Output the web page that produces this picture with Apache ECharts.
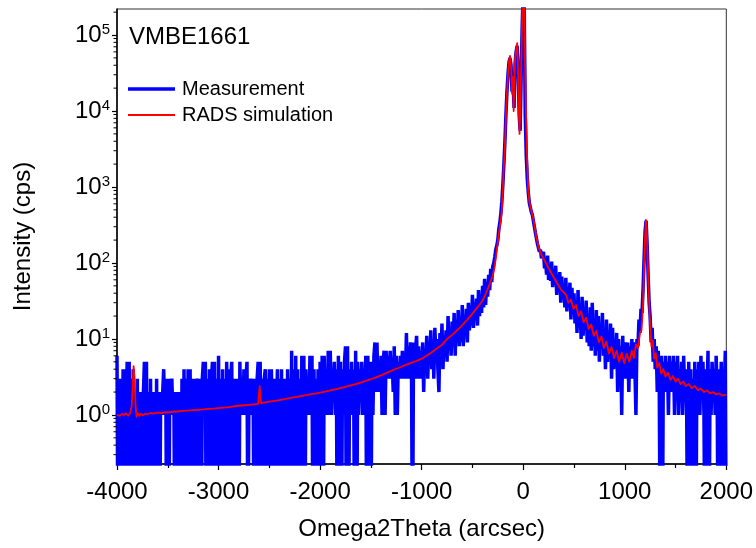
<!DOCTYPE html>
<html><head><meta charset="utf-8">
<script src="https://cdn.jsdelivr.net/npm/echarts@6/dist/echarts.min.js"></script>
<style>html,body{margin:0;padding:0;background:#fff}#c{width:756px;height:548px}</style>
</head><body><div id="c"></div>
<script>
// ---- Measurement (counts per 10 arcsec step, from -4000 to 2000) ----
const measStart = -4000, measStep = 10;
const measA = [6,0,3,0,3,0,4,0,4,1, 5,0,5,0,3,0,4,0,2,0, 3,0,2,0,2,0,2,5,0,5, 0,2,0,3,0,2,0,2,0,3, 0,2,0,2,1,2,4,1,3,0];
const measB = [3,0,3,1,3,1,2,0,2,0, 2,1,2,0,3,0,4,0,3,0, 4,0,4,0,3,0,3,0,3,1, 3,0,3,0,3,5,1,5,0,3, 0,4,0,3,5,0,5,0,3,0];
const measC = [6,0,3,0,4,0,3,0,5,0, 4,0,3,5,0,3,0,3,0,3, 0,5,1,3,1,4,1,3,5,0, 3,1,3,1,3,0,3,0,3,5, 0,5,0,3,0,3,4,0,3,1];
const measD = [4,0,4,1,3,0,3,1,4,0, 3,0,4,0,3,0,3,0,4,1, 3,0,7,0,4,0,6,0,4,0, 3,0,6,0,6,0,4,1,3,1, 6,1,6,0,4,0,3,0,4,0];
const measE = [5,0,6,0,6,1,4,1,7,1, 7,1,4,2,5,1,4,0,6,0, 5,0,4,1,5,8,0,8,0,4, 1,5,1,4,0,7,0,5,1,4, 2,5,1,4,2,6,0,6,0,5];
const measF = [0,5,1,6,9,2,9,2,5,2, 6,1,5,7,1,7,3,6,3,7, 3,5,2,8,1,6,1,5,3,6, 3,7,3,6,3,12,3,8,3,9, 4,0,9,3,7,11,3,8,3,7];
const measG = [3,9,2,7,4,11,3,8,5,13, 4,9,3,14,6,10,4,2,12,5, 16,4,11,6,13,5,20,7,14,6, 17,9,22,6,16,10,24,8,18,9, 28,8,20,11,25,9,30,13,22,15];
const measH = [38,14,30,18,34,15,44,20,36,22, 50,26,62,28,56,36,70,44,84,56, 90,100,120,150,170,200,280,340,450,650, 1100,2000,4000,9000,18000,30000,44000,50000,40000,18000, 24000,11000,42000,60000,72000,38000,9000,5500,30000,130000];
const measI = [400000,250000,9000,2600,1300,850,620,540,470,430, 360,340,250,240,180,180,140,150,115,130, 140,85,110,70,125,60,90,58,104,48, 80,52,92,38,70,44,76,30,66,34, 52,26,64,23,48,27,55,18,47,21];
const measJ = [40,16,30,12,44,14,28,10,36,11, 24,13,32,9,20,8,26,7,30,8, 18,6,24,7,20,5,15,9,22,6, 13,4,18,5,12,6,16,3,14,4, 9,5,12,2,10,3,8,1,11,3];
const measK = [3,9,3,9,2,8,3,10,3,9, 4,1,10,8,18,12,25,22,45,110, 260,360,180,70,30,20,9,14,5,10, 4,8,2,7,2,0,6,0,5,2, 6,2,5,1,6,2,5,2,6,1];
const measL = [5,2,6,1,4,2,5,1,6,2, 4,1,0,5,1,4,0,3,1,5, 0,4,2,5,1,6,2,5,1,0, 4,2,7,0,4,1,5,2,4,1, 6,2,0,4,1,5,0,4,2,7, 0];

// ---- RADS simulation ----
const simX = [-4000,-3970,-3950,-3930,-3910,-3890,-3870,-3855,-3845,-3837,
  -3828,-3818,-3808,-3795,-3780,-3765,-3745,-3720,-3700,-3670,
  -3640,-3600,-3560,-3520,-3480,-3440,-3400,-3350,-3300,-3250,
  -3200,-3150,-3100,-3050,-3000,-2950,-2900,-2850,-2800,-2750,
  -2700,-2650,-2610,-2600,-2595,-2588,-2580,-2560,-2500,-2450,
  -2400,-2350,-2300,-2250,-2200,-2150,-2100,-2050,-2000,-1950,
  -1900,-1850,-1800,-1750,-1700,-1650,-1600,-1550,-1500,-1450,
  -1400,-1350,-1300,-1250,-1200,-1150,-1100,-1050,-1000,-950,
  -900,-850,-800,-750,-700,-650,-600,-550,-500,-450,
  -400,-350,-300,-280,-265,-250,-235,-220,-210,-200,
  -192,-184,-176,-168,-160,-150,-140,-130,-124,-117,
  -110,-102,-94,-86,-79,-68,-59,-52,-46,-36,
  -28,-20,-12,-4,5,13,20,29,39,50,
  60,75,94,110,128,150,177,210,242,280,
  324,370,423,445,470,495,520,545,570,595,
  620,645,670,695,720,745,770,795,820,845,
  870,895,920,945,970,995,1020,1045,1070,1090,
  1110,1130,1150,1165,1178,1190,1200,1208,1216,1224,
  1232,1240,1250,1262,1275,1290,1305,1320,1340,1360,
  1380,1400,1425,1450,1475,1500,1525,1550,1575,1600,
  1630,1660,1690,1720,1750,1780,1810,1840,1870,1900,
  1930,1960,2000];
const simY = [1.00,0.97,1.03,1.00,1.05,0.98,1.06,1.3,2.5,4.4,
  3.2,1.4,0.95,1.05,0.97,1.04,0.99,1.04,1.02,1.06,
  1.04,1.07,1.06,1.09,1.08,1.11,1.11,1.13,1.14,1.16,
  1.17,1.18,1.20,1.21,1.23,1.25,1.27,1.30,1.32,1.34,
  1.36,1.38,1.40,1.45,2.4,1.7,1.42,1.45,1.50,1.53,
  1.57,1.61,1.66,1.71,1.76,1.81,1.86,1.91,1.97,2.03,
  2.10,2.17,2.25,2.34,2.44,2.55,2.67,2.80,2.95,3.12,
  3.32,3.55,3.80,4.05,4.30,4.60,4.85,5.15,5.5,6.0,
  6.7,7.5,8.4,10.0,11.3,13.0,15.2,18.0,21.5,26,
  32,45,68,90,130,190,270,380,500,1000,
  1800,2500,5000,10000,17000,30000,45000,53000,55000,35000,
  17000,28000,10000,25000,50000,65000,78000,40000,14000,5000,
  12000,37000,120000,400000,500000,200000,30000,8000,2200,900,
  650,520,410,320,222,165,130,108,89,72,
  57,45,38,30,33,25,28,20,23,16.5,
  19,13.5,15.5,11,12.8,9,10.8,7.6,9.2,6.4,
  7.8,5.6,7,5,6.6,4.8,6.4,5.0,7.0,5.6,
  8.5,7.5,12,13,25,90,220,370,280,130,
  60,30,15,8,9.5,5.5,6.5,4.2,4.8,3.5,
  4.0,3.2,3.6,2.9,3.25,2.75,3.0,2.55,2.75,2.4,
  2.55,2.25,2.4,2.12,2.22,2.0,2.1,1.92,2.0,1.86,
  1.92,1.80,1.85];

const seriesNames = ['Measurement', 'RADS simulation'];
const sampleName = 'VMBE1661';
const xTitle = 'Omega2Theta (arcsec)';
const yTitle = 'Intensity (cps)';
const xMin = -4000, xMax = 2000, xInterval = 1000;
const yMin = 0.226, yMax = 2.2e5;
const yDecades = [0, 1, 2, 3, 4, 5];

const measCounts = [].concat(measA, measB, measC, measD, measE, measF, measG, measH, measI, measJ, measK, measL);
// zero counts cannot sit on a log axis: send them below the axis floor (clipped)
const measData = measCounts.map((c, i) => [measStart + i * measStep, c === 0 ? 0.01 : c]);
const simData = simX.map((x, i) => [x, simY[i]]);

// minor log ticks (2..9 × 10^k) inside the axis range
const minorTicks = [];
for (let k = -1; k <= 5; k++) for (let m = 2; m <= 9; m++) {
  const v = m * Math.pow(10, k);
  if (v >= yMin && v <= yMax) minorTicks.push([xMin, v]);
}

const FONT = 'Liberation Sans, Arial, sans-serif';
const chart = echarts.init(document.getElementById('c'), null, {renderer: 'canvas'});
chart.setOption({
  animation: false,
  backgroundColor: '#fff',
  grid: {left: 117, right: 29, top: 9, bottom: 84, show: true, borderColor: '#333', borderWidth: 1, backgroundColor: 'transparent'},
  graphic: [{type: 'text', left: 129, top: 25, style: {text: sampleName, font: '24px ' + FONT, fill: '#000'}}],
  legend: {
    left: 128, top: 79, orient: 'vertical', padding: 0, itemGap: 6,
    itemWidth: 47, itemHeight: 14,
    textStyle: {fontFamily: FONT, fontSize: 20, color: '#000', lineHeight: 20, padding: [0, 0, 0, 2]},
    data: [
      {name: seriesNames[0], icon: 'path://M0 0H47V3.5H0Z', itemStyle: {color: '#0000ff'}},
      {name: seriesNames[1], icon: 'path://M0 0H47V1.8H0Z', itemStyle: {color: '#ff0000'}}
    ]
  },
  xAxis: {
    type: 'value', min: xMin, max: xMax, interval: xInterval,
    name: xTitle, nameLocation: 'middle', nameGap: 53,
    nameTextStyle: {fontFamily: FONT, fontSize: 24, color: '#000'},
    axisLine: {show: true, onZero: false, lineStyle: {color: '#000', width: 1.5}},
    axisTick: {show: true, inside: false, length: 6, lineStyle: {color: '#000', width: 1.2}},
    minorTick: {show: true, splitNumber: 2, length: 4, lineStyle: {color: '#000', width: 1.2}},
    axisLabel: {fontFamily: FONT, fontSize: 24, color: '#000', margin: 16, formatter: function (v) { return String(v); }},
    splitLine: {show: false}
  },
  yAxis: {
    type: 'log', logBase: 10, min: yMin, max: yMax,
    name: yTitle, nameLocation: 'middle', nameGap: 82, nameRotate: 90,
    nameTextStyle: {fontFamily: FONT, fontSize: 24, color: '#000'},
    axisLine: {show: true, onZero: false, lineStyle: {color: '#000', width: 1.5}},
    axisTick: {show: true, inside: false, length: 5, lineStyle: {color: '#000', width: 1.2}},
    axisLabel: {
      margin: 7, showMinLabel: false, showMaxLabel: false,
      formatter: function (v) {
        const e = Math.round(Math.log10(v));
        if (Math.abs(Math.log10(v) - e) > 1e-6 || yDecades.indexOf(e) < 0) return '';
        return '{b|10}{s|' + e + '}';
      },
      rich: {
        b: {fontFamily: FONT, fontSize: 24, color: '#000', lineHeight: 26},
        s: {fontFamily: FONT, fontSize: 15, color: '#000', verticalAlign: 'top', lineHeight: 15}
      }
    },
    splitLine: {show: false}
  },
  series: [
    {
      name: seriesNames[0], type: 'line', data: measData, symbol: 'none', clip: true,
      lineStyle: {color: '#0000ff', width: 3.5, join: 'bevel'}, itemStyle: {color: '#0000ff'}, z: 2
    },
    {
      name: seriesNames[1], type: 'line', data: simData, symbol: 'none', clip: true,
      lineStyle: {color: '#ff0000', width: 1.8, join: 'round'}, itemStyle: {color: '#ff0000'}, z: 3
    },
    {
      type: 'custom', data: minorTicks, encode: {x: 0, y: 1}, silent: true, clip: false, z: 4,
      renderItem: function (params, api) {
        const p = api.coord([api.value(0), api.value(1)]);
        return {type: 'line', shape: {x1: p[0] - 3.5, y1: p[1], x2: p[0], y2: p[1]}, style: {stroke: '#000', lineWidth: 1}};
      }
    }
  ]
});
</script>
</body></html>
